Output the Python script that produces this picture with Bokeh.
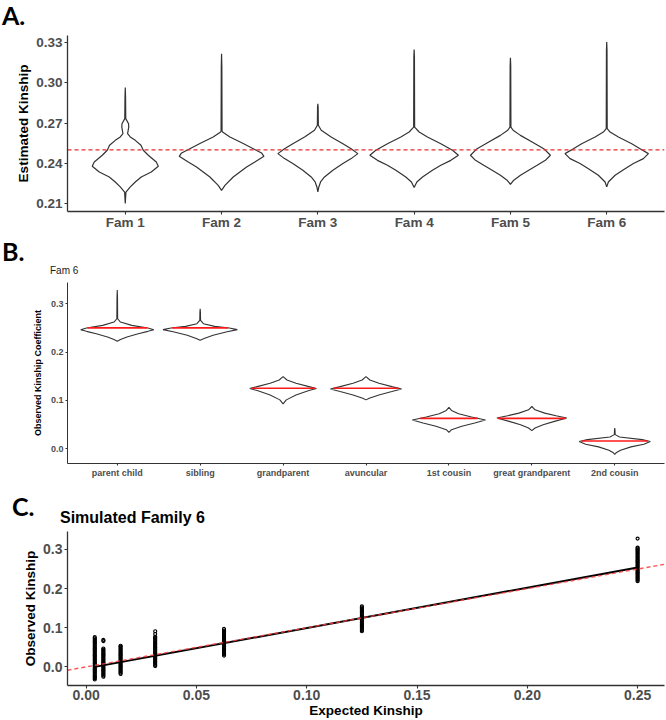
import numpy as np
from bokeh.plotting import figure
from bokeh.layouts import column
from bokeh.models import FixedTicker, NumeralTickFormatter, ColumnDataSource, Div
from bokeh.embed import file_html
from bokeh.resources import INLINE

# ---------------- Panel A data: violin outlines (value, half-width) ----------------
families = ["Fam 1", "Fam 2", "Fam 3", "Fam 4", "Fam 5", "Fam 6"]
expected_kinship_line = 0.25

fam1_vals = [0.2964, 0.2894, 0.2733, 0.2695, 0.2670, 0.2621, 0.2596, 0.2571, 0.2534, 0.2497, 0.2460, 0.2410, 0.2378, 0.2335, 0.2298, 0.2261, 0.2224, 0.2186, 0.2100]
fam1_hw   = [0.0,    0.003,  0.005,  0.034,  0.036,  0.024,  0.052,  0.104,  0.163,  0.187,  0.239,  0.322,  0.343,  0.270,  0.166,  0.104,  0.052,  0.007,  0.0]
fam2_vals = [0.3216, 0.3117, 0.2640, 0.2633, 0.2596, 0.2547, 0.2509, 0.2477, 0.2452, 0.2410, 0.2373, 0.2298, 0.2236, 0.2199]
fam2_hw   = [0.0,    0.003,  0.005,  0.010,  0.087,  0.225,  0.329,  0.415,  0.440,  0.346,  0.260,  0.121,  0.035,  0.0]
fam3_vals = [0.2844, 0.2819, 0.2683, 0.2646, 0.2596, 0.2546, 0.2509, 0.2472, 0.2435, 0.2398, 0.2348, 0.2298, 0.2261, 0.2224, 0.2187]
fam3_hw   = [0.0,    0.003,  0.005,  0.035,  0.138,  0.260,  0.346,  0.415,  0.346,  0.260,  0.156,  0.069,  0.028,  0.010,  0.0]
fam4_vals = [0.3248, 0.3191, 0.2670, 0.2633, 0.2596, 0.2546, 0.2497, 0.2460, 0.2422, 0.2385, 0.2348, 0.2298, 0.2261, 0.2219]
fam4_hw   = [0.0,    0.003,  0.005,  0.052,  0.138,  0.277,  0.398,  0.460,  0.381,  0.277,  0.190,  0.087,  0.028,  0.0]
fam5_vals = [0.3186, 0.3129, 0.2670, 0.2646, 0.2608, 0.2559, 0.2509, 0.2460, 0.2422, 0.2385, 0.2348, 0.2311, 0.2274, 0.2244]
fam5_hw   = [0.0,    0.003,  0.005,  0.028,  0.104,  0.225,  0.346,  0.415,  0.363,  0.277,  0.190,  0.104,  0.035,  0.0]
fam6_vals = [0.3303, 0.3241, 0.2658, 0.2633, 0.2596, 0.2546, 0.2509, 0.2472, 0.2435, 0.2398, 0.2360, 0.2311, 0.2261, 0.2224]
fam6_hw   = [0.0,    0.003,  0.005,  0.035,  0.121,  0.260,  0.346,  0.433,  0.381,  0.277,  0.190,  0.087,  0.017,  0.0]

# ---------------- Panel B data ----------------
relations = ["parent child", "sibling", "grandparent", "avuncular", "1st cousin", "great grandparent", "2nd cousin"]
rel_medians = [0.25, 0.25, 0.125, 0.125, 0.0625, 0.0625, 0.015625]

pc_vals  = [0.3286, 0.3135, 0.2689, 0.2621, 0.2552, 0.2497, 0.2463, 0.2428, 0.2380, 0.2312, 0.2257, 0.2223]
pc_hw    = [0.0,    0.003,  0.005,  0.039,  0.175,  0.370,  0.441,  0.370,  0.253,  0.117,  0.039,  0.0]
sib_vals = [0.2895, 0.2826, 0.2655, 0.2586, 0.2531, 0.2497, 0.2463, 0.2415, 0.2346, 0.2278, 0.2243]
sib_hw   = [0.0,    0.003,  0.005,  0.039,  0.175,  0.351,  0.448,  0.312,  0.156,  0.047,  0.0]
gp_vals  = [0.1489, 0.1420, 0.1351, 0.1283, 0.1242, 0.1201, 0.1111, 0.1008, 0.0926]
gp_hw    = [0.0,    0.047,  0.156,  0.312,  0.402,  0.312,  0.156,  0.039,  0.0]
av_vals  = [0.1489, 0.1420, 0.1351, 0.1283, 0.1235, 0.1180, 0.1111, 0.1043, 0.1008]
av_hw    = [0.0,    0.047,  0.156,  0.312,  0.429,  0.312,  0.156,  0.039,  0.0]
c1_vals  = [0.0851, 0.0789, 0.0720, 0.0652, 0.0590, 0.0528, 0.0460, 0.0391, 0.0336]
c1_hw    = [0.0,    0.031,  0.117,  0.273,  0.441,  0.312,  0.156,  0.031,  0.0]
ggp_vals = [0.0871, 0.0803, 0.0734, 0.0679, 0.0631, 0.0563, 0.0494, 0.0425, 0.0370]
ggp_hw   = [0.0,    0.039,  0.156,  0.292,  0.421,  0.273,  0.136,  0.039,  0.0]
c2_vals  = [0.0425, 0.0377, 0.0288, 0.0240, 0.0185, 0.0144, 0.0089, 0.0034, -0.0034, -0.0089, -0.0123]
c2_hw    = [0.0,    0.003,  0.005,  0.058,  0.331,  0.429,  0.351,  0.195,  0.070,   0.016,   0.0]

# ---------------- Panel C data ----------------
expected = [0.0039, 0.0078, 0.0156, 0.0313, 0.0625, 0.125, 0.25]
obs_r0 = [-0.032, -0.029, -0.026, -0.024, -0.021, -0.018, -0.015, -0.012, -0.009, -0.007, -0.004, -0.001,
          0.002, 0.005, 0.008, 0.010, 0.013, 0.016, 0.019, 0.022, 0.025, 0.028, 0.030, 0.033, 0.036, 0.039,
          0.042, 0.045, 0.047, 0.050, 0.053, 0.056, 0.059, 0.062, 0.064, 0.067, 0.070, 0.073, 0.076]
obs_r1 = [-0.025, -0.022, -0.019, -0.016, -0.013, -0.010, -0.008, -0.005, -0.002, 0.001, 0.004, 0.007,
          0.010, 0.012, 0.015, 0.018, 0.021, 0.024, 0.027, 0.030, 0.032, 0.035, 0.038, 0.041, 0.044, 0.047,
          0.066, 0.069]
obs_r2 = [-0.018, -0.015, -0.012, -0.009, -0.006, -0.003, 0.000, 0.002, 0.005, 0.008, 0.011, 0.014, 0.017,
          0.020, 0.023, 0.026, 0.029, 0.031, 0.034, 0.037, 0.040, 0.043, 0.046, 0.049, 0.052, 0.054]
obs_r3 = [0.002, 0.005, 0.008, 0.011, 0.014, 0.017, 0.020, 0.022, 0.025, 0.028, 0.031, 0.034, 0.037, 0.040,
          0.043, 0.046, 0.049, 0.051, 0.054, 0.057, 0.060, 0.063, 0.066, 0.069, 0.072, 0.075, 0.077, 0.084, 0.091]
obs_r4 = [0.029, 0.032, 0.035, 0.038, 0.041, 0.044, 0.047, 0.050, 0.052, 0.055, 0.058, 0.061, 0.064, 0.067,
          0.070, 0.073, 0.076, 0.079, 0.081, 0.084, 0.087, 0.090, 0.093, 0.097]
obs_r5 = [0.091, 0.094, 0.097, 0.100, 0.103, 0.106, 0.109, 0.112, 0.114, 0.117, 0.120, 0.123, 0.126, 0.129,
          0.132, 0.135, 0.138, 0.141, 0.143, 0.146, 0.149, 0.152, 0.155]
obs_r6 = [0.219, 0.222, 0.225, 0.228, 0.231, 0.234, 0.237, 0.240, 0.242, 0.245, 0.248, 0.251, 0.254, 0.257,
          0.260, 0.263, 0.266, 0.269, 0.271, 0.274, 0.277, 0.280, 0.283, 0.286, 0.289, 0.292, 0.295, 0.298,
          0.300, 0.303, 0.305, 0.328]
fit_x = [0.0039, 0.25]
fit_y = [0.0, 0.254]

# ---------------- styling helpers ----------------
FONT = "Liberation Sans"
LABEL_FONT = "Lato"
AXIS_COL = "#333333"
TICK_COL = "#4d4d4d"
W = 666


def style_axes(p, tick_size, title_size):
    p.xgrid.visible = False
    p.ygrid.visible = False
    p.outline_line_color = None
    p.background_fill_color = "white"
    p.border_fill_color = "white"
    for ax in (p.xaxis[0], p.yaxis[0]):
        ax.axis_line_color = AXIS_COL
        ax.axis_line_width = 1.3
        ax.major_tick_line_color = AXIS_COL
        ax.major_tick_line_width = 1.1
        ax.major_tick_in = 0
        ax.major_tick_out = 3
        ax.minor_tick_line_color = None
        ax.major_label_text_font = FONT
        ax.major_label_text_font_size = tick_size
        ax.major_label_text_font_style = "bold"
        ax.major_label_text_color = TICK_COL
        ax.major_label_standoff = 2
        ax.axis_label_text_font = FONT
        ax.axis_label_text_font_size = title_size
        ax.axis_label_text_font_style = "bold"
        ax.axis_label_text_color = "black"
        ax.axis_label_standoff = 2


def violin(center, vals, hw):
    xs = [center + w for w in hw] + [center - w for w in reversed(hw)]
    ys = list(vals) + list(reversed(vals))
    return xs, ys


def span(text, left, top, font, size, weight="bold", color="black"):
    return (f'<span style="position:absolute;left:{left}px;top:{top}px;font-family:\'{font}\';'
            f'font-weight:{weight};font-size:{size}px;line-height:1.2;color:{color};white-space:nowrap;">{text}</span>')


def header(height, spans):
    html = f'<div style="position:relative;width:{W}px;height:{height}px;">' + "".join(spans) + '</div>'
    return Div(text=html, width=W, height=height, margin=0)

# ---------------- Panel A ----------------
divA = header(30, [span("A.", 2, 0, LABEL_FONT, 25)])
pA = figure(width=W, height=205, x_range=(0.4, 6.6), y_range=(0.2041, 0.3352),
            output_backend="svg", toolbar_location=None,
            min_border_left=67, min_border_right=2, min_border_top=5, min_border_bottom=24)
style_axes(pA, "13.5px", "13.5px")
pA.xaxis.major_label_standoff = 0
pA.yaxis.axis_label = "Estimated Kinship"
pA.xaxis.ticker = FixedTicker(ticks=list(range(1, len(families) + 1)))
pA.xaxis.major_label_overrides = {i + 1: f for i, f in enumerate(families)}
pA.yaxis.ticker = FixedTicker(ticks=[0.21, 0.24, 0.27, 0.30, 0.33])
pA.yaxis.formatter = NumeralTickFormatter(format="0.00")

a_sets = [(fam1_vals, fam1_hw), (fam2_vals, fam2_hw), (fam3_vals, fam3_hw),
          (fam4_vals, fam4_hw), (fam5_vals, fam5_hw), (fam6_vals, fam6_hw)]
axs, ays = [], []
for i, (v, w) in enumerate(a_sets):
    xs, ys = violin(i + 1, v, w)
    axs.append(xs)
    ays.append(ys)
pA.patches(axs, ays, fill_color="white", line_color="#333333", line_width=1.2)
pA.line(x=[0.4, 6.6], y=[expected_kinship_line] * 2, line_color="#ee2b2b", line_width=1.2,
        line_dash="4 3")

# ---------------- Panel B ----------------
divB = header(40, [span("B.", 2, 1, LABEL_FONT, 25),
                   span("Fam 6", 50, 30, "Liberation Sans", 10, weight="normal", color="#1a1a1a")])
pB = figure(width=W, height=205, x_range=(0.4, 7.6), y_range=(-0.031, 0.344),
            output_backend="svg", toolbar_location=None,
            min_border_left=51, min_border_right=1, min_border_top=7, min_border_bottom=16)
style_axes(pB, "9px", "9px")
for ax in (pB.xaxis[0], pB.yaxis[0]):
    ax.major_tick_out = 2
    ax.axis_line_width = 1.0
pB.yaxis.axis_label_standoff = 5
pB.yaxis.axis_label = "Observed Kinship Coefficient"
pB.xaxis.ticker = FixedTicker(ticks=list(range(1, len(relations) + 1)))
pB.xaxis.major_label_overrides = {i + 1: r for i, r in enumerate(relations)}
pB.yaxis.ticker = FixedTicker(ticks=[0.0, 0.1, 0.2, 0.3])
pB.yaxis.formatter = NumeralTickFormatter(format="0.0")

b_sets = [(pc_vals, pc_hw), (sib_vals, sib_hw), (gp_vals, gp_hw), (av_vals, av_hw),
          (c1_vals, c1_hw), (ggp_vals, ggp_hw), (c2_vals, c2_hw)]
bxs, bys, mx0, mx1 = [], [], [], []
for i, (v, w) in enumerate(b_sets):
    xs, ys = violin(i + 1, v, w)
    bxs.append(xs)
    bys.append(ys)
    half = float(np.interp(rel_medians[i], v[::-1], w[::-1]))
    mx0.append(i + 1 - half)
    mx1.append(i + 1 + half)
pB.patches(bxs, bys, fill_color="white", line_color="#333333", line_width=1.1)
pB.segment(x0=mx0, x1=mx1, y0=rel_medians, y1=rel_medians, line_color="#ff1a1a", line_width=1.6)

# ---------------- Panel C ----------------
divC = header(46, [span("C.", 12, 11, LABEL_FONT, 25),
                   span("Simulated Family 6", 60, 28, "Liberation Sans", 16)])
pC = figure(width=W, height=194, x_range=(-0.00846, 0.2622), y_range=(-0.0476, 0.346),
            output_backend="svg", toolbar_location=None,
            min_border_left=59, min_border_right=2, min_border_top=5, min_border_bottom=32)
style_axes(pC, "14px", "13.5px")
pC.xaxis.axis_label = "Expected Kinship"
pC.yaxis.axis_label = "Observed Kinship"
pC.xaxis.axis_label_standoff = 0
pC.xaxis.major_label_standoff = 1
pC.xaxis.ticker = FixedTicker(ticks=[0.0, 0.05, 0.10, 0.15, 0.20, 0.25])
pC.xaxis.formatter = NumeralTickFormatter(format="0.00")
pC.yaxis.ticker = FixedTicker(ticks=[0.0, 0.1, 0.2, 0.3])
pC.yaxis.formatter = NumeralTickFormatter(format="0.0")

obs_sets = [obs_r0, obs_r1, obs_r2, obs_r3, obs_r4, obs_r5, obs_r6]
px, py = [], []
for e, obs in zip(expected, obs_sets):
    px += [e] * len(obs)
    py += obs
src = ColumnDataSource(data=dict(x=px, y=py))
pC.scatter("x", "y", source=src, marker="circle", size=3.0, fill_color=None,
           line_color="black", line_width=1.2)
pC.line(fit_x, fit_y, line_color="black", line_width=2)
pC.line([-0.00846, 0.2622], [-0.00846, 0.2622], line_color="#ff3b3b", line_alpha=0.85,
        line_width=1.4, line_dash="4 3")

layout = column(divA, pA, divB, pB, divC, pC, spacing=0)
open("out.html", "w").write(file_html(layout, INLINE))
